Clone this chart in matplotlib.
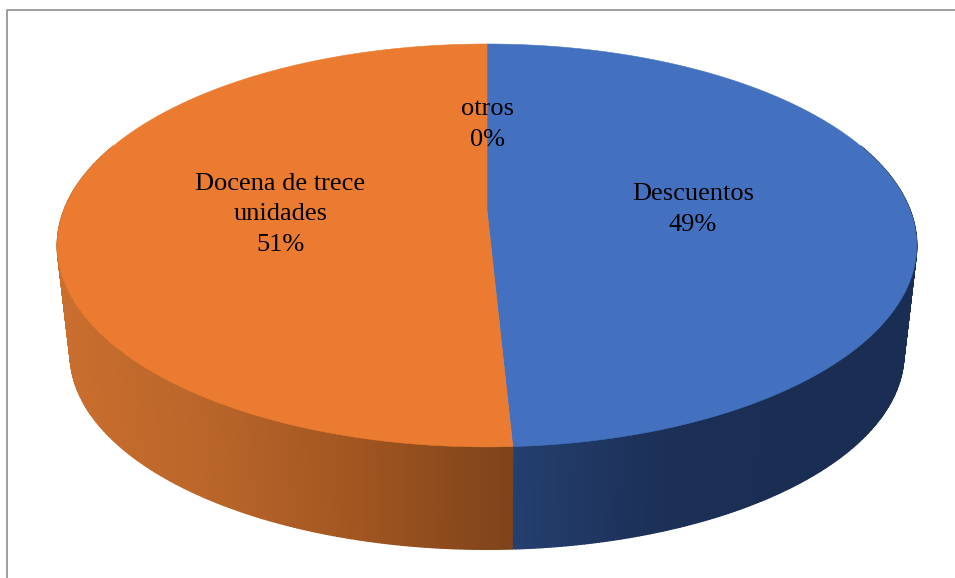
import numpy as np
import matplotlib
matplotlib.use('Agg')
import matplotlib.pyplot as plt
from matplotlib.colors import LinearSegmentedColormap

plt.rcParams['font.family'] = ['Liberation Serif', 'DejaVu Serif']

# data
labels = ['Descuentos', 'Docena de trece\nunidades', 'otros']
values = [49.2, 50.8, 0.0]
percent_labels = ['49%', '51%', '0%']
top_colors = ['#4371c0', '#ea7b30', '#a5a5a5']

W, H = 955, 578
fig = plt.figure(figsize=(W / 100, H / 100), dpi=100)
ax = fig.add_axes([0, 0, 1, 1])
ax.set_xlim(0, W)
ax.set_ylim(H, 0)
ax.axis('off')

# frame, only left and top show in the picture
ax.plot([7, 7, W], [H, 10, 10], color='#969696', lw=1.3)

# perspective of the disc
cx, cy = 487, 210
persp = 0.176
rx, ry = 423, 195.2
base_scale, base_y = 0.97, 319.5


def project(r, theta, y0=cy, scale=1.0):
    u = r * np.sin(theta)
    v = r * np.cos(theta)
    w = 1 + persp * v
    return cx + scale * rx * u / w, y0 - scale * ry * v / w


wall_orange = LinearSegmentedColormap.from_list('o', ['#c96e2e', '#b9652a', '#a05520', '#7e431b'])
wall_blue = LinearSegmentedColormap.from_list('b', ['#24406f', '#1c3058', '#1a2d52'])
wall_maps = [wall_blue, wall_orange, None]
wall_ranges = [(513, 800), (60, 513), (0, 1)]

fracs = np.array(values) / sum(values)
edges = np.concatenate([[0], np.cumsum(fracs)]) * 2 * np.pi

# sides first, strip by strip so the shading follows x
for i in range(len(values)):
    if wall_maps[i] is None or fracs[i] == 0:
        continue
    th = np.linspace(edges[i], edges[i + 1], 400)
    th = th[np.cos(th) < 0.35]
    x0, y0 = project(1, th)
    x1, y1 = project(1, th, base_y, base_scale)
    lo, hi = wall_ranges[i]
    for k in range(len(th) - 1):
        t = np.clip((x0[k] - lo) / (hi - lo), 0, 1)
        ax.fill([x0[k], x0[k + 1], x1[k + 1], x1[k]],
                [y0[k], y0[k + 1], y1[k + 1], y1[k]],
                color=wall_maps[i](t), lw=1, zorder=2)

# top of the disc
for i in range(len(values)):
    if fracs[i] == 0:
        continue
    th = np.linspace(edges[i], edges[i + 1], 400)
    x, y = project(1, th)
    ax.fill(np.r_[cx, x], np.r_[cy, y], color=top_colors[i], lw=0.4, zorder=3)

# labels
for i in range(len(values)):
    mid = (edges[i] + edges[i + 1]) / 2
    x, y = project(0.488, mid)
    ax.text(x, y + 2, labels[i] + '\n' + percent_labels[i], ha='center', va='center',
            fontsize=19, color='black', linespacing=1.5, zorder=4)

fig.savefig('out.png', dpi=100)
